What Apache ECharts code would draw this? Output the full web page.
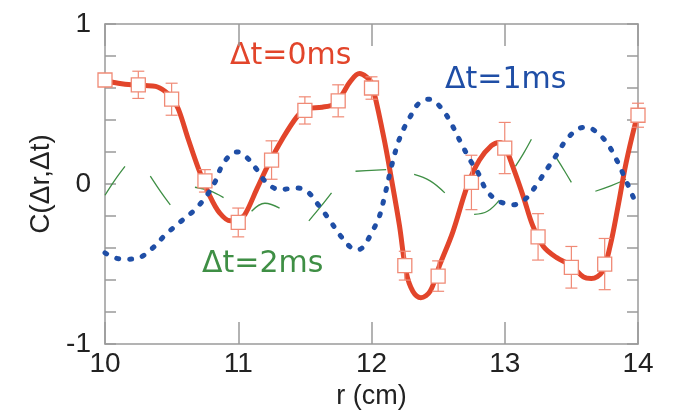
<!DOCTYPE html>
<html>
<head>
<meta charset="utf-8">
<script src="https://cdn.jsdelivr.net/npm/echarts@6/dist/echarts.min.js"></script>
<style>
  html, body { margin: 0; padding: 0; background: #fff; }
  #chart { width: 675px; height: 415px; }
</style>
</head>
<body>
<div id="chart"></div>
<script>
// measured points (dt = 0 ms) with error bars
const markerX = [10, 10.25, 10.5, 10.75, 11, 11.25, 11.5, 11.75, 12, 12.25, 12.5, 12.75, 13, 13.25, 13.5, 13.75, 14];
const markerY = [0.65, 0.62, 0.53, 0.02, -0.24, 0.15, 0.46, 0.52, 0.60, -0.51, -0.575, 0.01, 0.225, -0.33, -0.52, -0.50, 0.43];
const markerErr = [0.03, 0.085, 0.10, 0.07, 0.09, 0.12, 0.085, 0.10, 0.07, 0.09, 0.095, 0.17, 0.16, 0.145, 0.13, 0.16, 0.075];

// fitted curve, dt = 0 ms
const curve0X = [10.0, 10.1, 10.2, 10.3, 10.38, 10.45, 10.5, 10.55, 10.625, 10.7, 10.79, 10.86, 10.94, 11.0, 11.05, 11.14, 11.225, 11.33, 11.44, 11.51, 11.63, 11.72, 11.78, 11.84, 11.91, 11.96, 12.0, 12.09, 12.15, 12.21, 12.26, 12.31, 12.37, 12.44, 12.51, 12.61, 12.72, 12.81, 12.9, 12.96, 13.0, 13.06, 13.14, 13.21, 13.29, 13.39, 13.5, 13.59, 13.65, 13.73, 13.79, 13.85, 13.91, 13.98, 14.0];
const curve0Y = [0.645, 0.63, 0.62, 0.615, 0.61, 0.58, 0.54, 0.47, 0.28, 0.10, -0.08, -0.18, -0.23, -0.22, -0.19, -0.03, 0.12, 0.28, 0.42, 0.47, 0.48, 0.50, 0.56, 0.64, 0.69, 0.67, 0.63, 0.30, 0.03, -0.26, -0.55, -0.67, -0.71, -0.67, -0.51, -0.30, -0.01, 0.15, 0.24, 0.26, 0.235, 0.11, -0.08, -0.26, -0.39, -0.46, -0.51, -0.58, -0.59, -0.55, -0.39, -0.14, 0.13, 0.38, 0.43];

// dt = 1 ms
const curve1X = [10.0, 10.07, 10.14, 10.24, 10.35, 10.45, 10.56, 10.675, 10.76, 10.83, 10.875, 10.95, 11.0, 11.06, 11.14, 11.2, 11.31, 11.43, 11.51, 11.61, 11.69, 11.76, 11.85, 11.9, 11.94, 12.01, 12.06, 12.1, 12.15, 12.2, 12.25, 12.29, 12.35, 12.42, 12.47, 12.55, 12.61, 12.67, 12.74, 12.8, 12.86, 12.94, 13.06, 13.16, 13.25, 13.33, 13.395, 13.465, 13.565, 13.62, 13.68, 13.765, 13.84, 13.89, 13.94, 13.98, 14.0];
const curve1Y = [-0.43, -0.46, -0.47, -0.465, -0.405, -0.32, -0.24, -0.16, -0.076, 0.02, 0.11, 0.19, 0.20, 0.17, 0.09, 0.02, -0.035, -0.025, -0.04, -0.14, -0.23, -0.315, -0.40, -0.41, -0.39, -0.29, -0.2, -0.07, 0.11, 0.26, 0.36, 0.42, 0.50, 0.53, 0.52, 0.445, 0.36, 0.26, 0.15, 0.07, -0.035, -0.1, -0.13, -0.09, 0.01, 0.11, 0.19, 0.28, 0.35, 0.355, 0.33, 0.26, 0.15, 0.06, -0.035, -0.11, -0.14];

// dt = 2 ms, visible pieces only
const curve2Segments = [
  [[10.0, -0.07], [10.07, 0.02], [10.15, 0.11]],
  [[10.34, 0.05], [10.42, -0.05], [10.49, -0.13]],
  [[10.675, -0.02], [10.78, -0.04], [10.89, -0.085]],
  [[11.1, -0.17], [11.2, -0.12], [11.31, -0.15]],
  [[11.53, -0.23], [11.62, -0.14], [11.7, -0.055]],
  [[11.88, 0.08], [12.0, 0.085], [12.11, 0.09]],
  [[12.32, 0.06], [12.44, 0.02], [12.55, -0.055]],
  [[12.77, -0.19], [12.87, -0.17], [12.96, -0.1]],
  [[13.08, 0.11], [13.14, 0.19], [13.2, 0.28]],
  [[13.39, 0.16], [13.45, 0.08], [13.5, 0.01]],
  [[13.68, -0.045], [13.8, -0.01], [13.91, 0.03]],
];

const RED = '#e2452b';
const RED_LIGHT = '#f08a76';
const BLUE = '#1f4ea6';
const GREEN = '#3f8f45';
const FRAME = '#9a9a9a';
const AXIS_FONT = "'Liberation Sans', Arial, sans-serif";
const NOTE_FONT = "'DejaVu Sans', sans-serif";

const zip = (xs, ys) => xs.map((x, i) => [x, ys[i]]);

const xCommon = {
  type: 'value', min: 10, max: 14, interval: 1,
  axisLine: { show: true, onZero: false, lineStyle: { color: FRAME, width: 1.5 } },
  axisTick: { show: true, inside: true, length: 22, lineStyle: { color: FRAME, width: 1.5 } },
  splitLine: { show: false },
};
const yCommon = {
  type: 'value', min: -1, max: 1, interval: 0.2,
  axisLine: { show: true, onZero: false, lineStyle: { color: FRAME, width: 1.5 } },
  axisTick: { show: true, inside: true, length: 11, lineStyle: { color: FRAME, width: 1.5 } },
  splitLine: { show: false },
};

const greenSeries = curve2Segments.map((seg) => ({
  type: 'line', data: seg, smooth: 0.4, symbol: 'none', silent: true,
  lineStyle: { color: GREEN, width: 1.3 }, z: 2,
}));

const option = {
  backgroundColor: '#fff',
  animation: false,
  grid: { left: 105, right: 37, top: 24, bottom: 70, containLabel: false },
  xAxis: [
    {
      ...xCommon, position: 'bottom',
      name: 'r (cm)', nameLocation: 'middle', nameGap: 38,
      nameTextStyle: { fontFamily: AXIS_FONT, fontSize: 27, color: '#222' },
      axisLabel: { fontFamily: AXIS_FONT, fontSize: 28, color: '#222', margin: 6 },
    },
    { ...xCommon, position: 'top', axisLabel: { show: false } },
  ],
  yAxis: [
    {
      ...yCommon, position: 'left',
      name: 'C(Δr,Δt)', nameLocation: 'middle', nameGap: 48,
      nameTextStyle: { fontFamily: AXIS_FONT, fontSize: 28, color: '#222' },
      axisLabel: {
        fontFamily: AXIS_FONT, fontSize: 28, color: '#222', margin: 14,
        formatter: (v) => (Math.abs(v - Math.round(v)) < 1e-6 ? String(Math.round(v)) : ''),
      },
    },
    { ...yCommon, position: 'right', axisLabel: { show: false } },
  ],
  graphic: [
    { type: 'text', left: 230, top: 41, style: { text: 'Δt=0ms', fill: RED, font: `30px ${NOTE_FONT}` } },
    { type: 'text', left: 445, top: 65, style: { text: 'Δt=1ms', fill: BLUE, font: `30px ${NOTE_FONT}` } },
    { type: 'text', left: 202, top: 249, style: { text: 'Δt=2ms', fill: GREEN, font: `30px ${NOTE_FONT}` } },
  ],
  series: [
    ...greenSeries,
    {
      name: 'Δt=0ms', type: 'line', data: zip(curve0X, curve0Y), smooth: 0.35,
      symbol: 'none', lineStyle: { color: RED, width: 5 }, z: 3,
    },
    {
      type: 'custom', z: 4, silent: true,
      data: markerX.map((x, i) => [x, markerY[i] - markerErr[i], markerY[i] + markerErr[i]]),
      renderItem(params, api) {
        const x = api.value(0);
        const lo = api.coord([x, api.value(1)]);
        const hi = api.coord([x, api.value(2)]);
        const w = 6;
        const style = { stroke: RED_LIGHT, lineWidth: 1.2 };
        return {
          type: 'group',
          children: [
            { type: 'line', shape: { x1: lo[0], y1: lo[1], x2: hi[0], y2: hi[1] }, style },
            { type: 'line', shape: { x1: hi[0] - w, y1: hi[1], x2: hi[0] + w, y2: hi[1] }, style },
            { type: 'line', shape: { x1: lo[0] - w, y1: lo[1], x2: lo[0] + w, y2: lo[1] }, style },
          ],
        };
      },
    },
    {
      type: 'scatter', data: zip(markerX, markerY), symbol: 'rect', symbolSize: 14, z: 5,
      itemStyle: { color: '#fff', opacity: 1, borderColor: RED_LIGHT, borderWidth: 1.3 },
    },
    {
      name: 'Δt=1ms', type: 'line', data: zip(curve1X, curve1Y), smooth: 0.35,
      symbol: 'none', z: 6,
      lineStyle: { color: BLUE, width: 5, type: [2, 11], cap: 'round' },
    },
  ],
};

const chart = echarts.init(document.getElementById('chart'), null, { renderer: 'canvas' });
chart.setOption(option);
</script>
</body>
</html>
